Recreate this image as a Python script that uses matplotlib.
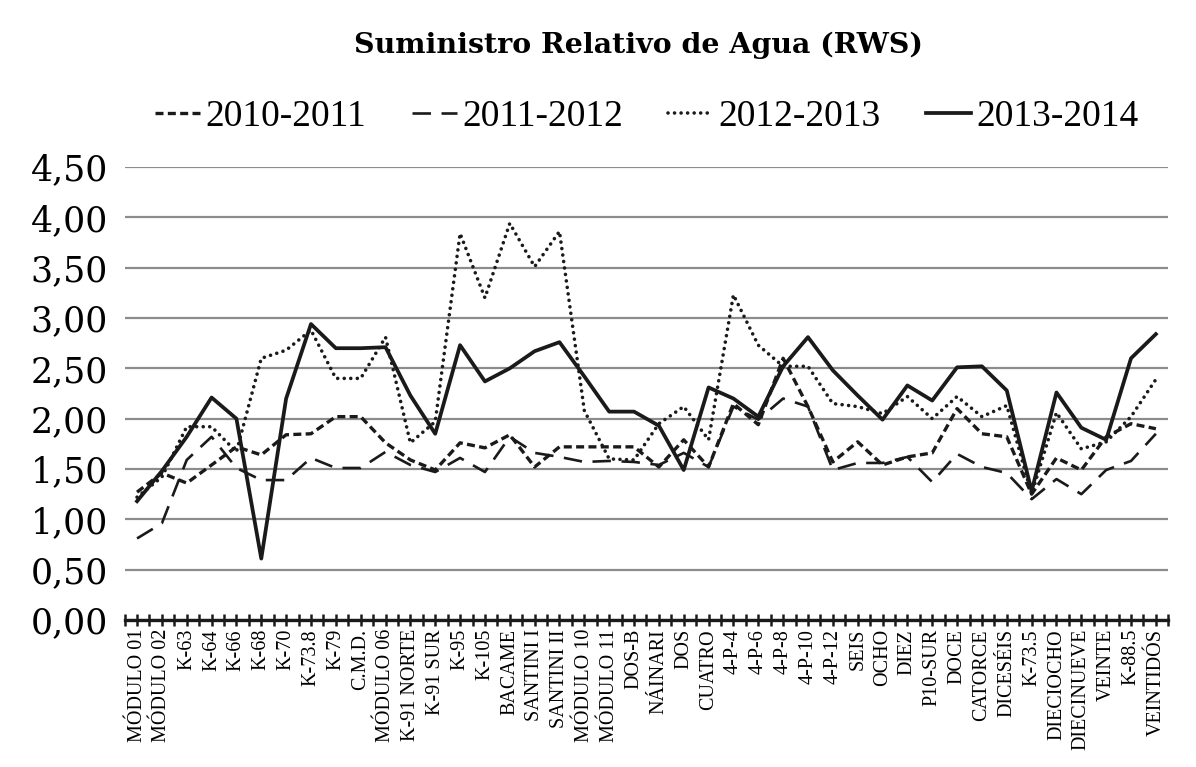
import numpy as np
import matplotlib
matplotlib.use("Agg")
import matplotlib.pyplot as plt
from matplotlib.ticker import FuncFormatter, MultipleLocator

# categories (irrigation modules / points)
categorias = ["MÓDULO 01", "MÓDULO 02", "K-63", "K-64", "K-66", "K-68", "K-70",
              "K-73.8", "K-79", "C.M.D.", "MÓDULO 06", "K-91 NORTE", "K-91 SUR",
              "K-95", "K-105", "BACAME", "SANTINI I", "SANTINI II", "MÓDULO 10",
              "MÓDULO 11", "DOS-B", "NÁINARI", "DOS", "CUATRO", "4-P-4", "4-P-6",
              "4-P-8", "4-P-10", "4-P-12", "SEIS", "OCHO", "DIEZ", "P10-SUR",
              "DOCE", "CATORCE", "DICESÉIS", "K-73.5", "DIECIOCHO", "DIECINUEVE",
              "VEINTE", "K-88.5", "VEINTIDÓS"]

rws_2010_2011 = [1.27, 1.46, 1.36, 1.54, 1.72, 1.64, 1.84, 1.85, 2.02, 2.02, 1.76,
                 1.59, 1.49, 1.76, 1.71, 1.84, 1.52, 1.72, 1.72, 1.72, 1.72, 1.52,
                 1.79, 1.52, 2.15, 1.94, 2.60, 2.12, 1.57, 1.77, 1.54, 1.62, 1.66,
                 2.10, 1.85, 1.82, 1.25, 1.61, 1.49, 1.82, 1.95, 1.90]

rws_2011_2012 = [0.81, 0.96, 1.59, 1.82, 1.51, 1.39, 1.39, 1.61, 1.51, 1.51, 1.67,
                 1.54, 1.47, 1.61, 1.47, 1.82, 1.66, 1.62, 1.57, 1.58, 1.57, 1.54,
                 1.66, 1.52, 2.12, 1.99, 2.20, 2.12, 1.49, 1.56, 1.56, 1.62, 1.37,
                 1.65, 1.52, 1.46, 1.20, 1.40, 1.25, 1.49, 1.58, 1.85]

rws_2012_2013 = [1.22, 1.42, 1.92, 1.92, 1.67, 2.60, 2.68, 2.88, 2.40, 2.40, 2.81,
                 1.76, 1.97, 3.84, 3.20, 3.94, 3.51, 3.86, 2.08, 1.60, 1.59, 1.95,
                 2.12, 1.79, 3.23, 2.73, 2.52, 2.52, 2.15, 2.12, 2.05, 2.22, 2.00,
                 2.22, 2.02, 2.13, 1.25, 2.06, 1.70, 1.77, 2.02, 2.39]

rws_2013_2014 = [1.18, 1.48, 1.82, 2.21, 2.00, 0.61, 2.20, 2.94, 2.70, 2.70, 2.71,
                 2.23, 1.85, 2.73, 2.37, 2.50, 2.67, 2.76, 2.42, 2.07, 2.07, 1.93,
                 1.49, 2.31, 2.20, 2.02, 2.52, 2.81, 2.48, 2.23, 1.99, 2.33, 2.18,
                 2.51, 2.52, 2.28, 1.28, 2.26, 1.91, 1.79, 2.60, 2.84]

x = np.arange(len(categorias))

fig = plt.figure(figsize=(11.96, 7.67), dpi=100)
ax = fig.add_axes([124.6 / 1196, 147 / 767, (1168.3 - 124.6) / 1196, 453 / 767])

ax.plot(x, rws_2010_2011, color="#1a1a1a", lw=2.4, linestyle=(0, (2.4, 1.3)),
        label="2010-2011", zorder=3)
ax.plot(x, rws_2011_2012, color="#1a1a1a", lw=1.9, linestyle=(0, (7, 4)),
        label="2011-2012", zorder=3)
ax.plot(x, rws_2012_2013, color="#1a1a1a", lw=2.6, linestyle=(0, (0.01, 1.8)),
        dash_capstyle="round", label="2012-2013", zorder=3)
ax.plot(x, rws_2013_2014, color="#1a1a1a", lw=2.7, linestyle="-",
        label="2013-2014", zorder=4)

ax.set_xlim(-0.5, len(categorias) - 0.5)
ax.set_ylim(0, 4.5)
ax.yaxis.set_major_locator(MultipleLocator(0.5))
ax.yaxis.set_major_formatter(FuncFormatter(lambda v, p: f"{v:.2f}".replace(".", ",")))
ax.grid(axis="y", color="#8c8c8c", lw=1.6)
ax.set_axisbelow(True)

for s in ["left", "right", "top"]:
    ax.spines[s].set_visible(False)
ax.spines["bottom"].set_linewidth(2.4)
ax.spines["bottom"].set_color("#1a1a1a")
ax.spines["bottom"].set_zorder(5)

ax.set_xticks(x)
ax.set_xticks(np.arange(-0.5, len(categorias)), minor=True)
ax.set_xticklabels(categorias, rotation=90, family="Liberation Serif", fontsize=14.5)
ax.tick_params(axis="x", which="both", direction="inout", length=9, width=1.8,
               color="#1a1a1a", pad=2)
ax.tick_params(axis="y", length=0, pad=12, labelsize=25)
for lab in ax.get_yticklabels():
    lab.set_family("DejaVu Serif")

fig.text(639 / 1196, 1 - 45 / 767, "Suministro Relativo de Agua (RWS)",
         ha="center", va="center", family="DejaVu Serif", fontweight="bold",
         fontsize=20.5)

fig.legend(loc="center", bbox_to_anchor=(647 / 1196, 1 - 117 / 767), ncol=4,
           frameon=False, prop={"family": "Liberation Serif", "size": 27},
           handlelength=1.2, handletextpad=0.15, columnspacing=1.2)

fig.savefig("out.png", dpi=100)
